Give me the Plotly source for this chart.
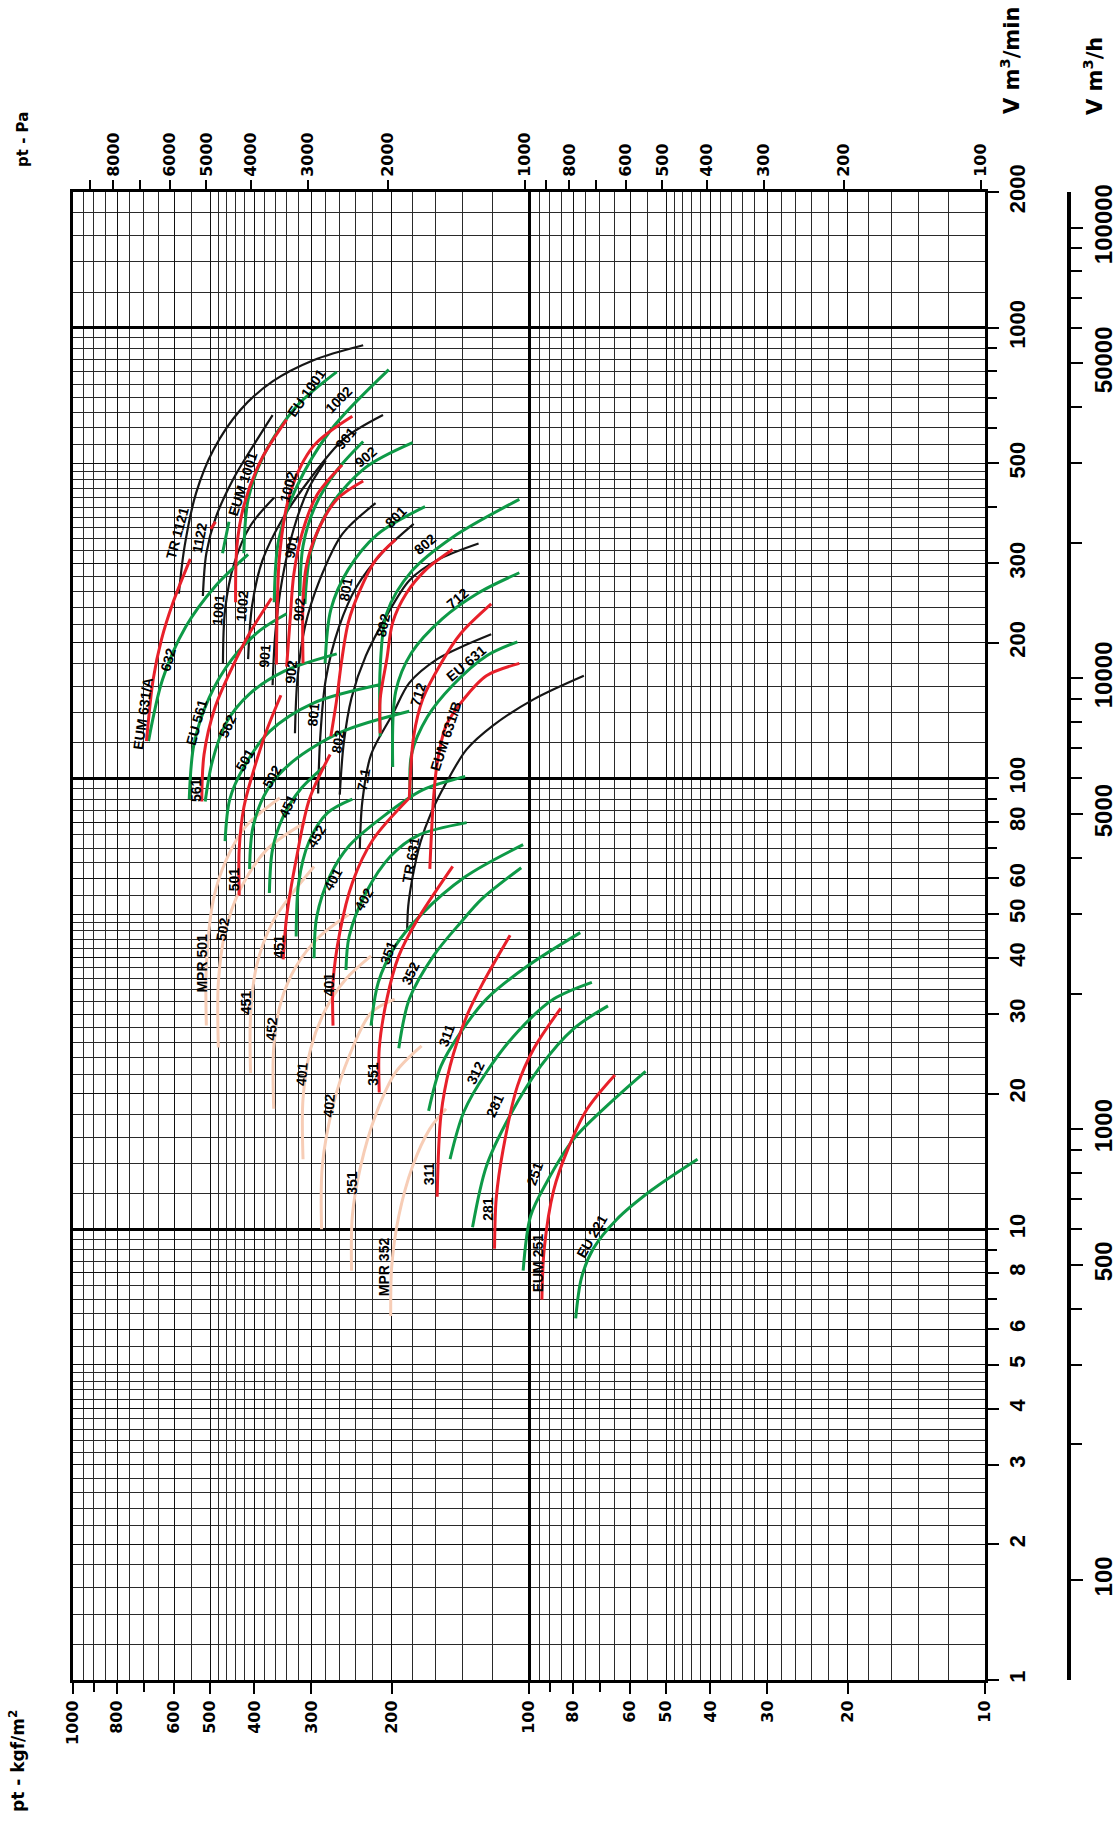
import math
import plotly.graph_objects as go

G = 9.80665  # Pa per kgf/m2

# ---------------- axis tick values ----------------
P_DECADES = [10, 100]
P_LABELED = [10, 20, 30, 40, 50, 60, 80, 100, 200, 300, 400, 500, 600, 800, 1000]
P_PLAIN = [70, 90, 700, 900]
PA_LABELED = [100, 200, 300, 400, 500, 600, 800, 1000, 2000, 3000, 4000, 5000, 6000, 8000]
PA_PLAIN = [700, 900, 7000, 9000]
Q_LABELED = [1, 2, 3, 4, 5, 6, 8, 10, 20, 30, 40, 50, 60, 80, 100, 200, 300, 500, 1000, 2000]
Q_PLAIN = [7, 9, 70, 90, 400, 600, 700, 800, 900]
QH_LABELED = [100, 500, 1000, 5000, 10000, 50000, 100000]
QH_PLAIN = [200, 300, 400, 600, 700, 800, 900, 2000, 3000, 4000, 6000, 7000, 8000, 9000,
            20000, 30000, 40000, 60000, 70000, 80000, 90000]
GRID_STEPS = [1.2, 1.4, 1.6, 1.8, 2, 2.2, 2.4, 2.6, 2.8, 3, 3.2, 3.4, 3.6, 3.8, 4,
              4.2, 4.4, 4.6, 4.8, 5, 5.5, 6, 6.5, 7, 7.5, 8, 8.5, 9, 9.5]
HEAVY_P = [100]
HEAVY_Q = [10, 100, 1000]

# ---------------- fan curves: pressure kgf/m2 (P) vs flow m3/min (Q) ----------------
# TR (black)
TR1121_P = [586, 569, 537, 492, 430, 365, 297, 231]
TR1121_Q = [257, 328, 430, 536, 656, 760, 847, 914]
TR1122_P = [519, 510, 486, 446, 403, 365]
TR1122_Q = [254, 316, 380, 460, 546, 640]
TR1001_P = [469, 464, 443, 408, 362]
TR1001_Q = [180, 237, 300, 364, 420]
TR1002_P = [413, 405, 384, 348, 306, 255, 209]
TR1002_Q = [184, 241, 305, 375, 454, 566, 640]
TR901_P = [365, 360, 348, 328, 304, 279]
TR901_Q = [161, 210, 275, 358, 441, 508]
TR902_P = [326, 322, 310, 288, 257, 217]
TR902_Q = [126, 166, 217, 275, 348, 408]
TR801_P = [290, 287, 279, 261, 239, 209, 179]
TR801_Q = [92.6, 123, 166, 217, 266, 318, 367]
TR802_P = [260, 255, 245, 228, 205, 183, 159, 129]
TR802_Q = [92.1, 119, 151, 187, 230, 275, 305, 332]
TR711_P = [235, 232, 222, 199, 183, 159, 139, 121]
TR711_Q = [69.7, 88.9, 113, 139, 163, 184, 197, 209]
TR631_P = [185, 184, 180, 173, 164, 152, 137, 120, 97.5, 75.8]
TR631_Q = [46.3, 52.1, 60.5, 72.2, 83.8, 97.7, 116, 131, 150, 169]

# EU (green)
EU632_P = [683, 636, 566, 489, 413]
EU632_Q = [121, 166, 217, 266, 314]
EU1001_P = [422, 413, 380, 324, 264]
EU1001_Q = [316, 416, 526, 668, 798]
EU1002_P = [362, 354, 324, 272, 203]
EU1002_Q = [246, 338, 441, 593, 807]
EU901_P = [318, 313, 294, 264, 231]
EU901_Q = [254, 328, 403, 482, 559]
EU902_P = [310, 301, 272, 228, 180]
EU902_Q = [244, 318, 403, 490, 556]
EU801_P = [280, 272, 249, 215, 169]
EU801_Q = [180, 237, 291, 348, 401]
EU802_P = [212, 212, 205, 181, 147, 105]
EU802_Q = [124, 176, 233, 288, 343, 416]
EU712_P = [199, 196, 181, 155, 130, 105]
EU712_Q = [106, 156, 190, 226, 257, 286]
EU631_P = [182, 181, 167, 147, 124, 106]
EU631_Q = [90, 113, 137, 161, 187, 201]
EU561_P = [556, 543, 503, 448, 389, 340]
EU561_Q = [90, 119, 151, 184, 213, 232]
EU562_P = [513, 495, 461, 410, 344, 264]
EU562_Q = [88.9, 109, 133, 154, 173, 189]
EU501_P = [464, 453, 422, 371, 297, 209]
EU501_Q = [72.6, 90, 106, 127, 147, 162]
EU502_P = [410, 403, 375, 330, 257, 183]
EU502_Q = [63, 78, 94.3, 109, 127, 141]
EU451_P = [371, 365, 346, 318, 279]
EU451_Q = [55.7, 69.7, 82.3, 94.3, 107]
EU452_P = [324, 320, 304, 277, 244]
EU452_Q = [44.6, 58.7, 72.2, 83.8, 90]
EU401_P = [296, 292, 273, 248, 209, 171, 138]
EU401_Q = [39.9, 49.4, 60.9, 70.9, 82.3, 94.3, 101]
EU402_P = [252, 248, 228, 201, 175, 137]
EU402_Q = [37.6, 44.6, 55.7, 67.3, 74.8, 79.8]
EU351_P = [222, 214, 197, 173, 138, 103]
EU351_Q = [28.3, 35.3, 42.3, 49.7, 60.5, 71.3]
EU352_P = [193, 183, 162, 141, 127, 104]
EU352_Q = [25.2, 32.4, 40.4, 48, 54, 63.4]
EU311_P = [166, 156, 141, 124, 101, 77.2]
EU311_Q = [18.3, 23.0, 27.4, 32.4, 38.3, 45.5]
EU312_P = [149, 139, 124, 106, 88.3, 72.8]
EU312_Q = [14.3, 18.2, 22.3, 27.4, 32.4, 35.3]
EU281_P = [133, 124, 110, 94.3, 80, 67.1]
EU281_Q = [10.1, 13.8, 17.9, 23, 27.8, 31.3]
EU251_P = [103, 99.2, 91.5, 80, 67.4, 55.5]
EU251_Q = [8.09, 10.7, 12.7, 15.8, 18.8, 22.4]
EU221_P = [79, 76.7, 72.3, 64.3, 53.9, 42.7]
EU221_Q = [6.34, 7.81, 9.05, 10.5, 12.2, 14.3]
EU_SHORT_P = [470, 455]
EU_SHORT_Q = [316, 371]

# EUM (red)
EUM631A_P = [690, 667, 640, 604, 553]
EUM631A_Q = [121, 166, 203, 245, 307]
EUM1001_P = [440, 437, 422, 386, 340]
EUM1001_Q = [246, 328, 403, 511, 625]
EUM1002_P = [358, 352, 334, 297, 244]
EUM1002_Q = [179, 316, 430, 546, 636]
EUM901_P = [340, 334, 328, 315, 292, 257]
EUM901_Q = [177, 226, 283, 348, 425, 496]
EUM902_P = [313, 313, 308, 292, 264, 231]
EUM902_Q = [180, 250, 295, 350, 416, 457]
EUM801_P = [272, 264, 258, 249, 235, 217, 196]
EUM801_Q = [124, 150, 180, 222, 261, 305, 339]
EUM802_P = [212, 212, 205, 199, 186, 168, 147]
EUM802_Q = [126, 150, 184, 222, 257, 291, 322]
EUM712_P = [183, 179, 171, 156, 141, 121]
EUM712_Q = [90.5, 124, 150, 180, 210, 244]
EUM631B_P = [165, 162, 159, 152, 139, 124, 105]
EUM631B_Q = [63, 90, 108, 131, 150, 169, 180]
EUM561_P = [522, 516, 489, 448, 410, 367]
EUM561_Q = [88.9, 113, 143, 176, 210, 251]
EUM501_P = [432, 432, 422, 403, 377, 350]
EUM501_Q = [55, 69.7, 86.3, 103, 127, 153]
EUM451_P = [346, 340, 324, 303, 273]
EUM451_Q = [39.7, 49.4, 66.1, 90, 113]
EUM401_P = [269, 269, 260, 244, 220, 183]
EUM401_Q = [28.3, 35.3, 45.5, 58.7, 73.1, 90.5]
EUM351_P = [213, 213, 205, 193, 177, 147]
EUM351_Q = [20.1, 25.2, 32.4, 40.4, 48, 63.8]
EUM311_P = [159, 156, 149, 137, 126, 110]
EUM311_Q = [11.8, 17.9, 23, 29.7, 35.3, 44.9]
EUM281_P = [119, 118, 114, 106, 97.5, 85.2]
EUM281_Q = [9.05, 11.7, 15, 20.8, 25.2, 30.9]
EUM251_P = [93.7, 92.6, 88.3, 82.3, 74.5, 64.8]
EUM251_Q = [6.98, 9.05, 12.2, 15, 18.5, 22]
EUM_SHORT_P = [499, 487]
EUM_SHORT_Q = [358, 371]

# MPR (light)
MPR501_P = [510, 510, 492, 461, 417, 352]
MPR501_Q = [28.3, 38.3, 54, 66.1, 78.5, 90.5]
MPR502_P = [480, 480, 464, 430, 375, 310]
MPR502_Q = [25.3, 35.3, 45.5, 56.7, 69.7, 79.8]
MPR451_P = [408, 408, 396, 365, 330, 296]
MPR451_Q = [22.2, 29.7, 38.3, 48, 55.7, 63.8]
MPR452_P = [363, 363, 350, 324, 288, 248]
MPR452_Q = [18.5, 25.2, 31.9, 38.3, 44.6, 50]
MPR401_P = [313, 313, 301, 279, 252, 222]
MPR401_Q = [14.3, 19.5, 25.2, 30.8, 35.9, 40.4]
MPR402_P = [285, 284, 269, 248, 222, 197]
MPR402_Q = [10, 13.8, 18.8, 24.2, 30.2, 32.4]
MPR351_P = [245, 244, 234, 217, 196, 172]
MPR351_Q = [8.09, 10.7, 13.8, 17.9, 22.3, 25.5]
MPR352_P = [201, 200, 193, 180, 165, 152]
MPR352_Q = [6.42, 8.28, 10.7, 13.8, 16.7, 18.5]

# curve labels: text, pressure, flow, angle
LABEL_TEXT = ["TR 1121", "1122", "1001", "1002", "EUM 1001", "EU 1001", "1002", "901", "902",
              "1002", "901", "902", "901", "902", "801", "802", "801", "802", "712", "EU 631",
              "712", "EUM 631/B", "801", "802", "EUM 631/A", "632", "EU 561", "562", "501",
              "561", "502", "451", "452", "401", "402", "711", "TR 631", "501", "MPR 501",
              "502", "451", "451", "452", "401", "402", "401", "351", "352", "351", "351",
              "311", "312", "281", "311", "281", "251", "EUM 251", "EU 221", "MPR 352"]
LABEL_P = [590, 527, 481, 425, 425, 308, 262, 252, 228,
           338, 332, 320, 380, 332, 252, 209, 196, 169, 143, 137,
           175, 152, 297, 262, 703, 618, 537, 459, 420,
           537, 367, 338, 292, 269, 230, 231, 182, 443, 522,
           469, 417, 354, 367, 315, 275, 275, 204, 182, 220, 244,
           152, 131, 119, 165, 123, 96.9, 95.7, 72.8, 208]
LABEL_Q = [350, 343, 237, 241, 451, 717, 692, 569, 517,
           444, 328, 237, 187, 173, 263, 219, 380, 332, 251, 180,
           154, 124, 139, 121, 139, 184, 133, 131, 110,
           94.3, 101, 86.8, 74.4, 59.8, 54, 99.4, 66.1, 59.8, 39,
           46.3, 31.9, 42.3, 27.8, 22.1, 18.8, 34.9, 41.1, 37.1, 22.1, 12.7,
           26.9, 22.2, 18.8, 13.3, 11.1, 13.3, 8.43, 9.67, 8.28]
LABEL_ANGLE = [-75, -80, -85, -85, -72, -55, -45, -50, -40,
               -75, -80, -85, -85, -85, -80, -78, -45, -40, -40, -40,
               -72, -72, -85, -80, -82, -75, -75, -65, -60,
               -90, -60, -65, -60, -60, -60, -80, -80, -90, -90,
               -80, -90, -90, -85, -85, -85, -90, -70, -65, -90, -90,
               -70, -65, -65, -90, -90, -70, -90, -60, -90]

# ---------------- styles ----------------
BLACK = "#161616"
GREEN = "#0e9a47"
RED = "#e8202a"
PINK = "#f7cdb6"
LABEL_FONT = "Liberation Sans Narrow, Liberation Sans, Arial, sans-serif"
AXIS_FONT = "DejaVu Sans, Verdana, sans-serif"

W, H = 1117, 1823
ML, MR, MT, MB = 73, 20, 192, 143
PLOT_W = W - ML - MR
PLOT_H = H - MT - MB
XD = (985 - ML) / PLOT_W
Y2POS = (1069 - ML) / PLOT_W

fig = go.Figure()


def add_curve(p, q, color, width):
    fig.add_trace(go.Scatter(
        x=p, y=q, mode="lines", hoverinfo="skip", showlegend=False,
        line=dict(color=color, width=width, shape="spline", smoothing=0.9)))


for p, q in [(MPR501_P, MPR501_Q), (MPR502_P, MPR502_Q), (MPR451_P, MPR451_Q),
             (MPR452_P, MPR452_Q), (MPR401_P, MPR401_Q), (MPR402_P, MPR402_Q),
             (MPR351_P, MPR351_Q), (MPR352_P, MPR352_Q)]:
    add_curve(p, q, PINK, 3)

for p, q in [(TR1121_P, TR1121_Q), (TR1122_P, TR1122_Q), (TR1001_P, TR1001_Q),
             (TR1002_P, TR1002_Q), (TR901_P, TR901_Q), (TR902_P, TR902_Q),
             (TR801_P, TR801_Q), (TR802_P, TR802_Q), (TR711_P, TR711_Q),
             (TR631_P, TR631_Q)]:
    add_curve(p, q, BLACK, 2.2)

for p, q in [(EU632_P, EU632_Q), (EU1001_P, EU1001_Q), (EU1002_P, EU1002_Q),
             (EU901_P, EU901_Q), (EU902_P, EU902_Q), (EU801_P, EU801_Q),
             (EU802_P, EU802_Q), (EU712_P, EU712_Q), (EU631_P, EU631_Q),
             (EU561_P, EU561_Q), (EU562_P, EU562_Q), (EU501_P, EU501_Q),
             (EU502_P, EU502_Q), (EU451_P, EU451_Q), (EU452_P, EU452_Q),
             (EU401_P, EU401_Q), (EU402_P, EU402_Q), (EU351_P, EU351_Q),
             (EU352_P, EU352_Q), (EU311_P, EU311_Q), (EU312_P, EU312_Q),
             (EU281_P, EU281_Q), (EU251_P, EU251_Q), (EU221_P, EU221_Q),
             (EU_SHORT_P, EU_SHORT_Q)]:
    add_curve(p, q, GREEN, 3)

for p, q in [(EUM631A_P, EUM631A_Q), (EUM1001_P, EUM1001_Q), (EUM1002_P, EUM1002_Q),
             (EUM901_P, EUM901_Q), (EUM902_P, EUM902_Q), (EUM801_P, EUM801_Q),
             (EUM802_P, EUM802_Q), (EUM712_P, EUM712_Q), (EUM631B_P, EUM631B_Q),
             (EUM561_P, EUM561_Q), (EUM501_P, EUM501_Q), (EUM451_P, EUM451_Q),
             (EUM401_P, EUM401_Q), (EUM351_P, EUM351_Q), (EUM311_P, EUM311_Q),
             (EUM281_P, EUM281_Q), (EUM251_P, EUM251_Q), (EUM_SHORT_P, EUM_SHORT_Q)]:
    add_curve(p, q, RED, 3)

# invisible helpers so the secondary axes are drawn
helper = dict(mode="markers", marker=dict(opacity=0, size=1), hoverinfo="skip", showlegend=False)
for xa, xs in [("x2", PA_LABELED), ("x3", P_LABELED), ("x4", P_LABELED), ("x5", PA_LABELED)]:
    fig.add_trace(go.Scatter(x=[xs[0], xs[-1]], y=[Q_LABELED[0], Q_LABELED[0]],
                             xaxis=xa, yaxis="y", **helper))
for ya, ys in [("y2", QH_LABELED), ("y3", Q_LABELED), ("y4", Q_LABELED), ("y5", QH_LABELED)]:
    fig.add_trace(go.Scatter(x=[P_LABELED[0], P_LABELED[0]], y=[ys[0], ys[-1]],
                             xaxis="x", yaxis=ya, **helper))

X_GRID = sorted(set(round(s * d, 4) for d in P_DECADES for s in GRID_STEPS))
Y_GRID = sorted(set(round(s * d, 4) for d in [1, 10, 100, 1000] for s in GRID_STEPS if s * d < 2000))

P_RANGE = [math.log10(P_LABELED[-1]), math.log10(P_LABELED[0])]
PA_RANGE = [math.log10(P_LABELED[-1] * G), math.log10(P_LABELED[0] * G)]
Q_RANGE = [0, math.log10(Q_LABELED[-1])]
QH_RANGE = [math.log10(60 * Q_LABELED[0]), math.log10(60 * Q_LABELED[-1])]

tickfont_b = dict(family=AXIS_FONT, size=16, color="black", weight="bold")
tickfont_r = dict(family=LABEL_FONT, size=22, color="black", weight="bold")
tickfont_h = dict(family=LABEL_FONT, size=24, color="black", weight="bold")

annotations = []
for t, p, q, a in zip(LABEL_TEXT, LABEL_P, LABEL_Q, LABEL_ANGLE):
    annotations.append(dict(
        text=t, x=math.log10(p), y=math.log10(q), xref="x", yref="y",
        showarrow=False, textangle=a,
        font=dict(family=LABEL_FONT, size=14, color="black", weight="bold")))

title_font = dict(family=AXIS_FONT, color="black", weight="bold")
for t, x, y, s in [("pt - Pa", (23 - ML) / PLOT_W, (H - MB - 140) / PLOT_H, 15),
                   ("pt - kgf/m<sup>2</sup>", (17 - ML) / PLOT_W, (H - MB - 1761) / PLOT_H, 17),
                   ("V m<sup>3</sup>/min", (1010 - ML) / PLOT_W, (H - MB - 61) / PLOT_H, 21),
                   ("V m<sup>3</sup>/h", (1093 - ML) / PLOT_W, (H - MB - 76) / PLOT_H, 21)]:
    annotations.append(dict(text=t, x=x, y=y, xref="paper", yref="paper",
                            showarrow=False, textangle=-90,
                            xanchor="center", yanchor="middle",
                            font=dict(size=s, **title_font)))

plain = dict(showticklabels=False, showgrid=False, showline=False, zeroline=False,
             fixedrange=True, ticks="outside", tickcolor="black", automargin=False)

fig.update_layout(
    template="none",
    width=W, height=H, autosize=False,
    margin=dict(l=ML, r=MR, t=MT, b=MB, pad=0),
    paper_bgcolor="white", plot_bgcolor="white",
    showlegend=False,
    xaxis=dict(type="log", range=P_RANGE, domain=[0, XD], anchor="y", automargin=False,
               tickmode="array", tickvals=P_LABELED, ticktext=[str(v) for v in P_LABELED],
               tickangle=-90, ticks="outside", ticklen=11, tickwidth=1.6, tickcolor="black",
               tickfont=tickfont_b,
               showline=True, linecolor="black", linewidth=3, mirror=True,
               showgrid=True, gridcolor="#111111", gridwidth=1.3,
               minor=dict(tickmode="array", tickvals=X_GRID, showgrid=True,
                          gridcolor="#2a2a2a", gridwidth=1.0, ticks=""),
               zeroline=False, fixedrange=True),
    xaxis2=dict(type="log", overlaying="x", side="top", anchor="y", domain=[0, XD],
                range=PA_RANGE, automargin=False,
                tickmode="array", tickvals=PA_LABELED, ticktext=[str(v) for v in PA_LABELED],
                tickangle=-90, ticks="outside", ticklen=11, tickwidth=1.6, tickcolor="black",
                tickfont=dict(family=AXIS_FONT, size=16, color="black", weight="bold"),
                showgrid=False, showline=False, zeroline=False, fixedrange=True),
    xaxis3=dict(type="log", overlaying="x", anchor="y", side="bottom", domain=[0, XD],
                range=P_RANGE, tickmode="array", tickvals=P_PLAIN, ticklen=11,
                tickwidth=1.6, **plain),
    xaxis4=dict(type="log", overlaying="x", anchor="y", domain=[0, XD], range=P_RANGE,
                tickmode="array", tickvals=HEAVY_P, showticklabels=False, ticks="",
                showgrid=True, gridcolor="black", gridwidth=3.2, automargin=False,
                showline=False, zeroline=False, fixedrange=True),
    xaxis5=dict(type="log", overlaying="x", anchor="y", side="top", domain=[0, XD],
                range=PA_RANGE, tickmode="array", tickvals=PA_PLAIN, ticklen=11,
                tickwidth=1.6, **plain),
    yaxis=dict(type="log", range=Q_RANGE, domain=[0, 1], anchor="x", side="right",
               automargin=False,
               tickmode="array", tickvals=Q_LABELED, ticktext=[str(v) for v in Q_LABELED],
               tickangle=-90, ticks="outside", ticklen=11, tickwidth=1.6, tickcolor="black",
               tickfont=tickfont_r,
               showline=True, linecolor="black", linewidth=3, mirror=True,
               showgrid=True, gridcolor="#111111", gridwidth=1.3,
               minor=dict(tickmode="array", tickvals=Y_GRID, showgrid=True,
                          gridcolor="#2a2a2a", gridwidth=1.0, ticks=""),
               zeroline=False, fixedrange=True),
    yaxis2=dict(type="log", overlaying="y", side="right", anchor="free", position=Y2POS,
                range=QH_RANGE, automargin=False,
                tickmode="array", tickvals=QH_LABELED, ticktext=[str(v) for v in QH_LABELED],
                tickangle=-90, ticks="outside", ticklen=12, tickwidth=1.8, tickcolor="black",
                tickfont=tickfont_h,
                showline=True, linecolor="black", linewidth=3.5,
                showgrid=False, zeroline=False, fixedrange=True),
    yaxis3=dict(type="log", overlaying="y", anchor="x", range=Q_RANGE,
                tickmode="array", tickvals=HEAVY_Q, showticklabels=False, ticks="",
                showgrid=True, gridcolor="black", gridwidth=3.2, automargin=False,
                showline=False, zeroline=False, fixedrange=True),
    yaxis4=dict(type="log", overlaying="y", anchor="x", side="right", range=Q_RANGE,
                tickmode="array", tickvals=Q_PLAIN, ticklen=11, tickwidth=1.6, **plain),
    yaxis5=dict(type="log", overlaying="y", anchor="free", position=Y2POS, side="right",
                range=QH_RANGE, tickmode="array", tickvals=QH_PLAIN, ticklen=12,
                tickwidth=1.8, **plain),
    annotations=annotations,
)

fig.write_html("out.html", config={"displayModeBar": False},
               post_script="document.body.style.margin='0';document.body.style.overflow='hidden';")
